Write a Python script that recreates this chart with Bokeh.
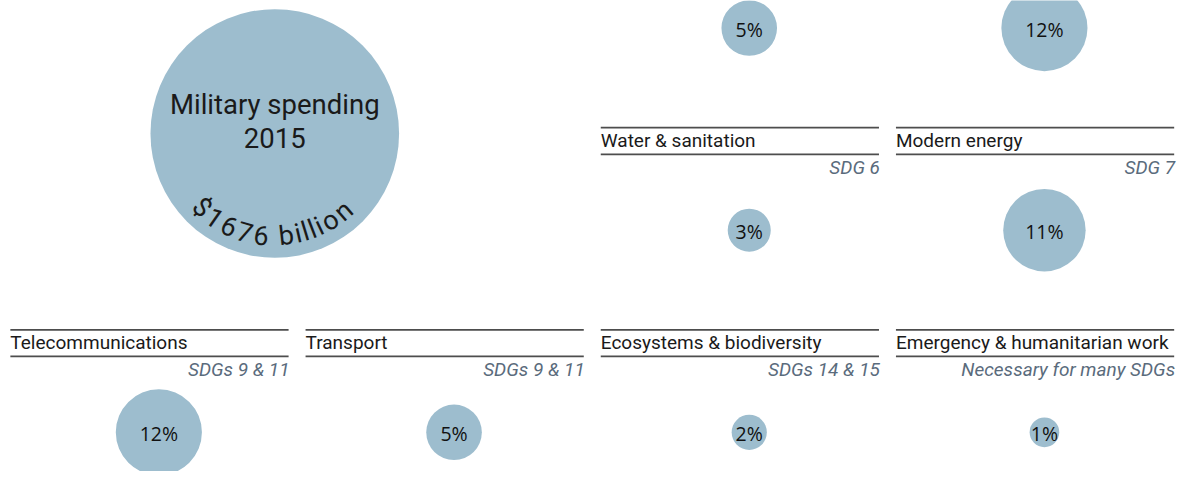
import math
from bokeh.plotting import figure
from bokeh.models import Range1d
from bokeh.core.properties import value
from bokeh.embed import file_html
from bokeh.resources import INLINE

# ---------------- data ----------------
military_title = ["Military spending", "2015"]
military_total = "$1676 billion"
military_pct = 100

names = ["", "", "Water & sanitation", "Modern energy",
         "Telecommunications", "Transport", "Ecosystems & biodiversity",
         "Emergency & humanitarian work"]
sdgs = ["", "", "SDG 6", "SDG 7", "SDGs 9 & 11", "SDGs 9 & 11",
        "SDGs 14 & 15", "Necessary for many SDGs"]
pcts = [5, 12, 3, 11, 12, 5, 2, 1]

# grid slots (layout)
slot_col = [2, 3, 2, 3, 0, 1, 2, 3]
slot_row = [0, 0, 1, 1, 2, 2, 2, 2]

# ---------------- layout / style ----------------
W, H = 1179, 471
REF_W, REF_H = 1195, 487
COL_X0, COL_PITCH, COL_W = 10.0, 299.2, 282.0
ROW_Y0, ROW_PITCH = -77.5, 209.0
K, MIN_R = 12.6, 15.0
FILL = "#9dbdce"
LINE = "#4d4d4d"
TXT = "#1a1a1a"
SUB = "#5a6b7c"
MIL_CX, MIL_CY = 278.0, 137.5

p = figure(width=W, height=H, output_backend="svg", toolbar_location=None,
           x_range=Range1d(0, REF_W), y_range=Range1d(REF_H, 0),
           x_axis_type=None, y_axis_type=None, min_border=0,
           outline_line_color=None, background_fill_color="white",
           border_fill_color="white")
p.grid.visible = False

def radius(v):
    return max(MIN_R, K * math.sqrt(v))

lefts = [COL_X0 + c * COL_PITCH for c in slot_col]
line1 = [ROW_Y0 + r * ROW_PITCH for r in slot_row]

cx = [l + 150.5 for l in lefts]
cy = [y + 106 for y in line1]
rad = [radius(v) for v in pcts]

# circles
p.circle(x=cx, y=cy, radius=rad, fill_color=FILL, line_color=None)
p.circle(x=[MIL_CX], y=[MIL_CY], radius=[radius(military_pct)],
         fill_color=FILL, line_color=None)

# percent labels
p.text(x=cx, y=[y + 1.5 for y in cy], text=[f"{v}%" for v in pcts],
       text_font=value("Open Sans"), text_font_size="19.5px", text_color="#111111",
       text_align="center", text_baseline="middle")

# header rules and titles
vis = [i for i in range(len(names)) if names[i]]
x0 = [lefts[i] for i in vis]
x1 = [lefts[i] + COL_W for i in vis]
for off in (0.0, 27.5):
    yy = [line1[i] + off for i in vis]
    p.segment(x0=x0, y0=yy, x1=x1, y1=yy, line_color=LINE, line_width=1.7)

p.text(x=x0, y=[line1[i] + 13.5 for i in vis], text=[names[i] for i in vis],
       text_font=value("Roboto"), text_font_size="19px", text_color=TXT,
       text_align="left", text_baseline="alphabetic")
p.text(x=[x + 1 for x in x1], y=[line1[i] + 41 for i in vis], text=[sdgs[i] for i in vis],
       text_font=value("Roboto"), text_font_size="19px", text_font_style="italic",
       text_color=SUB, text_align="right", text_baseline="alphabetic")

# military spending text
p.text(x=[MIL_CX, MIL_CX], y=[MIL_CY - 30, MIL_CY + 5], text=military_title,
       text_font=value("Roboto"), text_font_size="27.5px", text_color=TXT,
       text_align="center", text_baseline="alphabetic")

# curved "$1676 billion" along inner bottom arc
cw = {'$': 0.56, '1': 0.56, '6': 0.56, '7': 0.56, ' ': 0.28, 'b': 0.56,
      'i': 0.25, 'l': 0.25, 'o': 0.57, 'n': 0.55}
chars = list(military_total)
widths = [cw.get(c, 0.55) for c in chars]
centers = []
acc = 0.0
for w in widths:
    centers.append(acc + w / 2)
    acc += w
phi_start, phi_end, R_TXT = 134.0, 49.0, 106.0
span = centers[-1] - centers[0]
phis = [phi_start - (c - centers[0]) / span * (phi_start - phi_end) for c in centers]
tx = [MIL_CX + R_TXT * math.cos(math.radians(f)) for f in phis]
ty = [MIL_CY + R_TXT * math.sin(math.radians(f)) for f in phis]
ang = [-math.radians(f - 90) for f in phis]
keep = [i for i, c in enumerate(chars) if c != ' ']
p.text(x=[tx[i] for i in keep], y=[ty[i] for i in keep], text=[chars[i] for i in keep],
       angle=[ang[i] for i in keep], text_font=value("Roboto"), text_font_size="27px",
       text_color=TXT, text_align="center", text_baseline="middle")

open("out.html", "w").write(file_html(p, INLINE))
